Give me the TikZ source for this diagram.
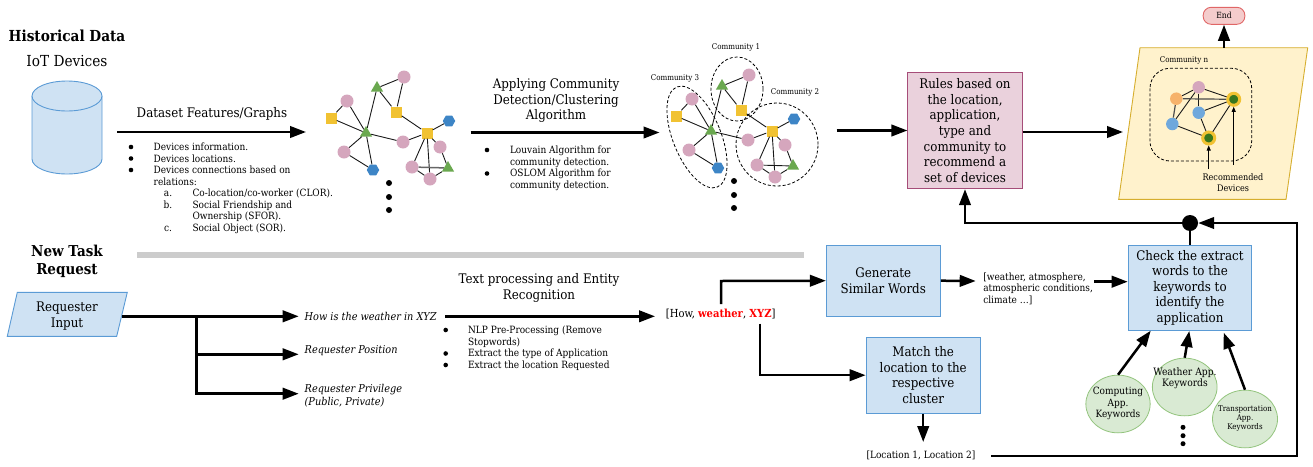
\documentclass[tikz,border=0pt]{standalone}
\usepackage{fontspec}
\setmainfont{DejaVu Serif Condensed}
\usetikzlibrary{arrows.meta,shapes.geometric,calc}
\definecolor{cblue}{HTML}{CFE2F3}
\definecolor{sblue}{HTML}{5B9BD5}
\definecolor{gpink}{HTML}{D5A6BD}
\definecolor{gyellow}{HTML}{F1C232}
\definecolor{ggreen}{HTML}{6AA84F}
\definecolor{gblue}{HTML}{3D85C6}
\definecolor{lblue}{HTML}{6FA8DC}
\definecolor{lorange}{HTML}{F6B26B}
\definecolor{dgreen}{HTML}{38761D}
\definecolor{kwline}{HTML}{93C47D}
\definecolor{kwfill}{HTML}{D9EAD3}
\tikzset{
  txt/.style={inner sep=0pt,outer sep=0pt},
  fsxl/.style={font=\fontsize{15.2}{18}\selectfont},
  fsl/.style={font=\fontsize{13.2}{15.6}\selectfont,align=center},
  fsm/.style={font=\fontsize{10}{11.6}\selectfont,align=left},
  fss/.style={font=\fontsize{7.9}{9}\selectfont},
  bul/.style={circle,fill=black,inner sep=0pt,minimum size=4.6pt},
  bigdot/.style={circle,fill=black,inner sep=0pt,minimum size=6pt},
  flow/.style={line width=2.5pt,-{Triangle[length=16pt,width=11.5pt]}},
  plain/.style={line width=2.5pt},
  bluebox/.style={draw=sblue,fill=cblue,line width=0.9pt},
  kw/.style={ellipse,inner sep=0pt,draw=kwline,fill=kwfill,line width=0.8pt},
  gc/.style={circle,fill=gpink,inner sep=0pt,minimum size=13pt},
  gs/.style={rectangle,fill=gyellow,inner sep=0pt,minimum size=11pt},
  gt/.style={regular polygon,regular polygon sides=3,fill=ggreen,inner sep=0pt,minimum size=14pt},
  gh/.style={regular polygon,regular polygon sides=6,fill=gblue,inner sep=0pt,minimum size=12.5pt},
  ge/.style={line width=0.9pt,black!90},
  comm/.style={dashed,line width=0.8pt,dash pattern=on 3pt off 2pt},
  rc/.style={circle,inner sep=0pt,minimum size=12.5pt},
  rec/.style={circle,fill=dgreen,draw=gyellow,line width=3pt,inner sep=0pt,minimum size=12pt},
  smallflow/.style={line width=0.8pt,-{Triangle[length=5pt,width=4pt]}},
}
\newcommand{\devgraph}[2]{%
  \node[gc] (#1pa) at (404,77) {};
  \node[gc] (#1pb) at (347,101) {};
  \node[gc] (#1pc) at (403,142) {};
  \node[gc] (#1pd) at (344,152) {};
  \node[gc] (#1pe) at (440,147) {};
  \node[gc] (#1pf) at (412,167) {};
  \node[gc] (#1pg) at (430,179) {};
  \node[gt] (#1ta) at (377,88) {};
  \node[gt] (#1tb) at (366,133) {};
  \node[gt] (#1tc) at (448,168) {};
  \node[gs] (#1sa) at (396,112) {};
  \node[gs] (#1sb) at (331,118) {};
  \node[gs] (#1sc) at (427,133) {};
  \node[gh] (#1ha) at (449,121) {};
  \node[gh] (#1hb) at (373,170) {};
  \foreach \p/\q in {ta/pa,pa/sa,ta/sa,ta/tb,sb/pb,sb/tb,pb/tb,tb/pc,pc/sc,sa/sc,sc/ha,sc/pe,tb/pd,pd/hb,tb/hb,sc/pf,sc/pg,pe/tc,pf/pg,pg/tc}
    {\draw[ge] (#1\p) -- (#1\q);}
  \draw[#2] (#1pf) -- (#1tc);
  \node[bigdot] (#1da) at (389,183) {};
  \node[bigdot] (#1db) at (389,197) {};
  \node[bigdot] (#1dc) at (389,210) {};
}
\begin{document}
\begin{tikzpicture}[x=1pt,y=-1pt]
\useasboundingbox (0,0) rectangle (1313,466);
% top-left titles
\node[txt,fsxl] (hist) at (67,36) {\textbf{Historical Data}};
\node[txt,fsxl] (iot) at (67,61) {IoT Devices};
% cylinder
\draw[draw=sblue,fill=cblue,line width=0.9pt] (32,96) -- (32,159) arc[start angle=180,end angle=360,x radius=35pt,y radius=15pt] -- (102,96);
\draw[draw=sblue,fill=cblue,line width=0.9pt] (67,96) ellipse[x radius=35pt,y radius=15pt];
% first arrow
\coordinate (a1s) at (117,132);
\coordinate (a1e) at (306,132);
\draw[flow] (a1s) -- (a1e);
\node[txt,fsl] (dsf) at (212,114) {Dataset Features/Graphs};
\node[bul] (b1) at (131,147) {};
\node[bul] (b2) at (131,158.5) {};
\node[bul] (b3) at (131,170) {};
\node[txt,fsm,anchor=north west] (t1) at (153.7,143) {Devices information.\\Devices locations.\\Devices connections based on\\relations:};
\node[txt,fsm,anchor=base] (la) at (168,196.5) {a.};
\node[txt,fsm,anchor=base] (lb) at (168,208) {b.};
\node[txt,fsm,anchor=base] (lc) at (168,231.5) {c.};
\node[txt,fsm,anchor=north west] (t2) at (192.5,189) {Co-location/co-worker (CLOR).\\Social Friendship and\\Ownership (SFOR).\\Social Object (SOR).};
% graphs
\devgraph{u}{line width=1.5pt,black!60}
\begin{scope}[shift={(345,-2)}]
\devgraph{v}{ge}
\end{scope}
% communities
\draw[comm] (737,89) ellipse[x radius=26pt,y radius=32pt];
\draw[comm] (697,137) [rotate around={22:(697,137)}] ellipse[x radius=24pt,y radius=54pt];
\draw[comm] (777,144.5) ellipse[x radius=41pt,y radius=41.5pt];
\node[txt,fss] (c1) at (736,47) {Community 1};
\node[txt,fss] (c3) at (675,78) {Community 3};
\node[txt,fss] (c2) at (795,92) {Community 2};
% second arrow
\node[txt,fsl] (acd) at (556,100.5) {Applying Community\\Detection/Clustering\\Algorithm};
\coordinate (a2s) at (470.5,132.5);
\coordinate (a2e) at (659.5,132.5);
\draw[flow] (a2s) -- (a2e);
\node[bul] (b4) at (487,150) {};
\node[bul] (b5) at (487,173.5) {};
\node[txt,fsm,anchor=north west] (t3) at (510,146) {Louvain Algorithm for\\community detection.\\OSLOM Algorithm for\\community detection.};
% rules
\node[line width=0.9pt,minimum width=114.3pt,minimum height=116.4pt,inner sep=0pt,fsl,draw={rgb,255:red,166;green,77;blue,121},fill={rgb,255:red,234;green,209;blue,220}] (rules) at (965,130.5) {Rules based on\\the location,\\application,\\type and\\community to\\recommend a\\set of devices};
\coordinate (a3s) at (836.7,130.5);
\draw[flow] (a3s) -- (rules.west);
\coordinate (pge) at (1123,132);
\draw[flow] (rules.east |- pge) -- (pge);
% result parallelogram
\draw[draw={rgb,255:red,214;green,174;blue,46},fill={rgb,255:red,255;green,242;blue,204},line width=0.9pt] (1140,47.7) -- (1307.7,47.7) -- (1286,199.3) -- (1118.7,199.3) -- cycle;
\coordinate (ptop) at (1224,47.7);
\node[draw={rgb,255:red,224;green,102;blue,102},fill={rgb,255:red,244;green,204;blue,204},line width=0.9pt,rounded corners=8pt,minimum width=41.7pt,minimum height=17pt,inner sep=0pt,font=\fontsize{8.5}{10}\selectfont] (endn) at (1224,15.8) {End};
\draw[flow] (ptop) -- (endn.south);
\node[txt,fss] (cn) at (1184,60) {Community n};
\draw[comm,rounded corners=20pt] (1150,68.3) rectangle (1251.7,161);
\node[rc,fill=gpink] (na) at (1198.7,87.3) {};
\node[rc,fill=lorange] (nb) at (1176.3,98.7) {};
\node[rec] (nc) at (1233.7,99.3) {};
\node[rc,fill=lblue] (nd) at (1198.7,112.7) {};
\node[rc,fill=lblue] (ne) at (1172.3,124) {};
\node[rec] (nf) at (1208.7,138) {};
\foreach \p/\q in {nb/na,na/nc,na/nd,na/ne,nd/nc,nd/nf,ne/nf,nf/nc}{\draw[ge] (\p) -- (\q);}
\draw[line width=1.2pt,black!70] (nb) -- (nc);
\draw[line width=1.2pt,black!70] (nb) -- (ne);
\coordinate (ra) at (1208.7,169);
\coordinate (rb) at (1233.7,165);
\draw[smallflow] (ra) -- (nf);
\draw[smallflow] (rb) -- (nc);
\node[txt,font=\fontsize{9}{10.8}\selectfont,align=center] (recd) at (1233,182.5) {Recommended\\Devices};
% bar
\fill[black!20] (137,251.7) rectangle (803.7,257.7);
% lower left
\node[txt,fsl,font=\fontsize{15}{18.5}\selectfont\bfseries] (newt) at (67,261.3) {New Task\\Request};
\draw[bluebox] (17.3,292.3) -- (127.3,292.3) -- (116.7,336.3) -- (7.3,336.3) -- cycle;
\node[txt,fsl] (reqi) at (67,315.8) {Requester\\Input};
\coordinate (ia) at (122,316.3);
\coordinate (ib) at (298.7,316.3);
\coordinate (ic) at (196.7,316.3);
\coordinate (id) at (196.7,354.3);
\coordinate (ie) at (196.7,393.7);
\coordinate (if) at (298.7,354.3);
\coordinate (ig) at (298.7,393.7);
\draw[flow] (ia) -- (ib);
\draw[plain] (ic) -- (ie);
\draw[flow] (id) -- (if);
\draw[flow,shorten <=-1.25pt] (ie) -- (ig);
\node[txt,anchor=west,font=\fontsize{10.8}{13}\selectfont\itshape] (q1) at (304.7,316.3) {How is the weather in XYZ};
\node[txt,anchor=west,font=\fontsize{10.8}{13}\selectfont\itshape] (q2) at (304.7,351) {Requester Position};
\node[txt,anchor=west,font=\fontsize{10.8}{13}\selectfont\itshape,align=left] (q3) at (304.7,396) {Requester Privilege\\(Public, Private)};
% text processing
\node[txt,fsl] (tp) at (539,288) {Text processing and Entity\\Recognition};
\coordinate (a5s) at (445,316.3);
\coordinate (a5e) at (655,316.3);
\draw[flow] (a5s) -- (a5e);
\node[bul] (b6) at (445.7,330) {};
\node[bul] (b7) at (445.7,353.5) {};
\node[bul] (b8) at (445.7,365) {};
\node[txt,fsm,anchor=north west] (t4) at (468,326) {NLP Pre-Processing (Remove\\Stopwords)\\Extract the type of Application\\Extract the location Requested};
\node[txt,font=\fontsize{11.1}{13}\selectfont] (toks) at (720.7,314) {[How, \textcolor{red}{\textbf{weather}}, \textcolor{red}{\textbf{XYZ}}]};
% generate / match
\node[bluebox,minimum width=114pt,minimum height=71.3pt,inner sep=0pt,fsl] (gen) at (883.3,280.7) {Generate\\Similar Words};
\node[bluebox,minimum width=114.3pt,minimum height=75.7pt,inner sep=0pt,fsl] (match) at (923.2,375.2) {Match the\\location to the\\respective\\cluster};
\coordinate (g1) at (721,304);
\coordinate (g2) at (721,281);
\coordinate (m1) at (760,323.7);
\coordinate (m2) at (760,375.2);
\draw[flow] (g1) -- (g2) -- (gen.west);
\draw[flow] (m1) -- (m2) -- (match.west);
\node[txt,font=\fontsize{10}{12}\selectfont] (loc) at (921,455) {[Location 1, Location 2]};
\coordinate (lend) at (923.2,442);
\draw[flow] (match.south) -- (lend);
\coordinate (we) at (975.7,281);
\draw[flow] (gen.east) -- (we);
\node[txt,fsm,anchor=north west] (wtxt) at (983.3,272.7) {[weather, atmosphere,\\atmospheric conditions,\\climate …]};
% check
\node[bluebox,minimum width=123.4pt,minimum height=85.3pt,inner sep=0pt,fsl] (check) at (1190,287.7) {Check the extract\\words to the\\keywords to\\identify the\\application};
\coordinate (cs) at (1094,281.7);
\coordinate (ce) at (1127.7,281.7);
\draw[flow] (cs) -- (ce);
% junction
\node[circle,fill=black,inner sep=0pt,minimum size=16pt] (junc) at (1190,223) {};
\draw[plain] (check.north) -- (junc.south);
\draw[flow] (junc.west) -| (rules.south);
\coordinate (ls) at (991.3,456);
\coordinate (lc) at (1297,456);
\coordinate (lt) at (1297,223);
\draw[flow] (ls) -- (lc) -- (lt) -- (junc.east);
% keyword ellipses
\node[kw,minimum width=64.3pt,minimum height=57.7pt] (kc) at (1118,404) {};
\node[txt,align=center,font=\fontsize{10}{11.5}\selectfont] (kct) at (1118,403.5) {Computing\\App.\\Keywords};
\node[kw,minimum width=64.7pt,minimum height=57.7pt] (kw1) at (1184.7,387) {};
\node[txt,align=center,font=\fontsize{10.2}{11.5}\selectfont] (kwt) at (1185,378.5) {Weather App.\\Keywords};
\node[kw,minimum width=65pt,minimum height=57.7pt] (kt) at (1245,419) {};
\node[txt,align=center,font=\fontsize{7.9}{9.3}\selectfont] (ktt) at (1245,418.5) {Transportation\\App.\\Keywords};
\coordinate (ka) at (1150.7,330.7);
\coordinate (kb) at (1189.3,331);
\coordinate (kc2) at (1223.7,332.7);
\draw[flow] (kc.north) -- (ka);
\draw[flow] (kw1.north) -- (kb);
\draw[flow] (kt.north) -- (kc2);
\node[bigdot,minimum size=5pt] (kd1) at (1183,427.3) {};
\node[bigdot,minimum size=5pt] (kd2) at (1183,435.7) {};
\node[bigdot,minimum size=5pt] (kd3) at (1183,443.7) {};
\end{tikzpicture}
\end{document}
